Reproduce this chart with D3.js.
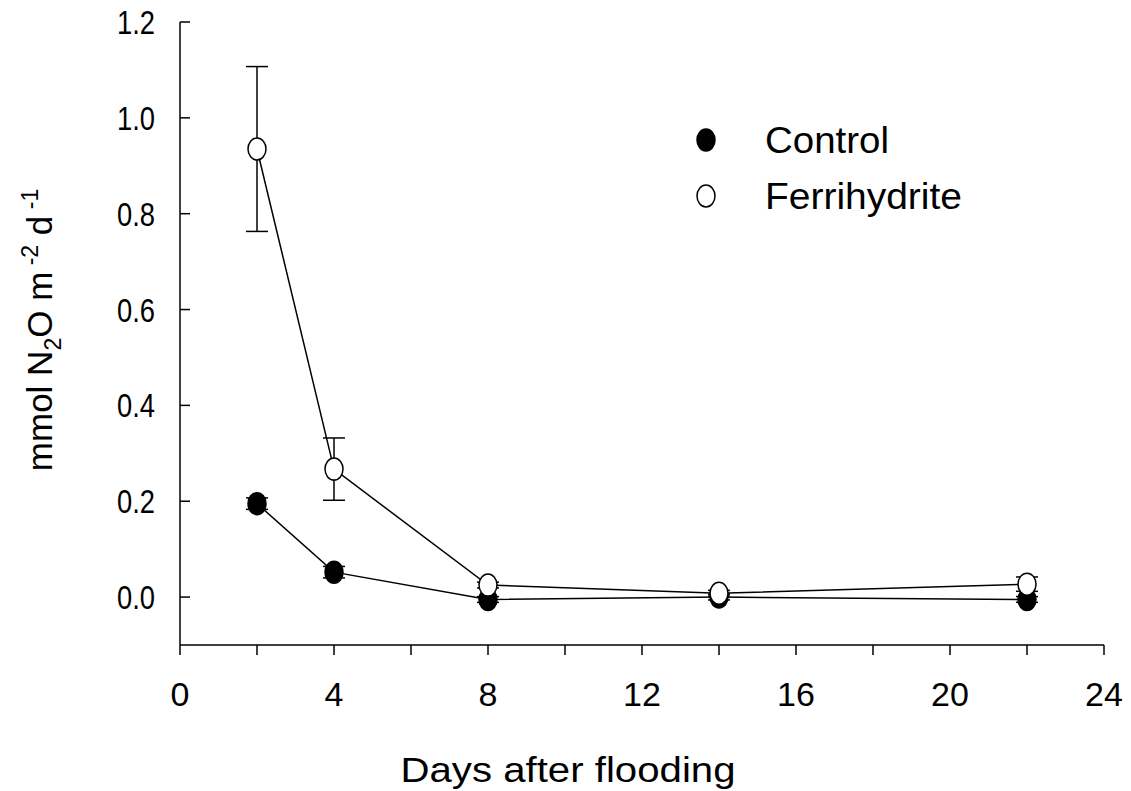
<!DOCTYPE html>
<html>
<head>
<script src="https://cdn.jsdelivr.net/npm/d3@7"></script>
<style>body{margin:0;background:#fff}</style>
</head>
<body>
<div id="root"></div>
<script>
var days = [2, 4, 8, 14, 22];
var control = [0.195, 0.052, -0.005, 0.0, -0.005];
var controlErr = [0.012, 0.012, 0.006, 0.006, 0.006];
var ferri = [0.935, 0.267, 0.025, 0.008, 0.027];
var ferriErr = [0.172, 0.065, 0.006, 0.006, 0.015];
var xTicks = [0, 4, 8, 12, 16, 20, 24];
var yTicks = [0, 0.2, 0.4, 0.6, 0.8, 1.0, 1.2];

var svg = d3.select('#root').append('svg').attr('width', 1131).attr('height', 791)
    .style('font-family', 'Liberation Sans, Arial, sans-serif');

var x = d3.scaleLinear().domain([0, 24]).range([180, 1104]);
var y = d3.scaleLinear().domain([-0.1, 1.2]).range([645, 22]);

// axes
svg.append('line').attr('x1', 180).attr('x2', 180).attr('y1', y(1.2)).attr('y2', y(-0.1)).attr('stroke', '#000').attr('stroke-width', 1.5);
svg.append('line').attr('x1', 180).attr('x2', 1104).attr('y1', 645).attr('y2', 645).attr('stroke', '#000').attr('stroke-width', 1.5);

svg.selectAll('.yt').data(yTicks).enter().append('line')
    .attr('x1', 180).attr('x2', 190).attr('y1', function (d) { return y(d); }).attr('y2', function (d) { return y(d); })
    .attr('stroke', '#000').attr('stroke-width', 1.5);
svg.selectAll('.yl').data(yTicks).enter().append('text')
    .attr('x', 155).attr('y', function (d) { return y(d) + 12; }).attr('text-anchor', 'end')
    .attr('font-size', 34).attr('textLength', 38).attr('lengthAdjust', 'spacingAndGlyphs')
    .text(function (d) { return d.toFixed(1); });

svg.selectAll('.xt').data(d3.range(0, 25, 2)).enter().append('line')
    .attr('x1', function (d) { return x(d); }).attr('x2', function (d) { return x(d); })
    .attr('y1', 645).attr('y2', 655).attr('stroke', '#000').attr('stroke-width', 1.5);
svg.selectAll('.xl').data(xTicks).enter().append('text')
    .attr('x', function (d) { return x(d); }).attr('y', 706).attr('text-anchor', 'middle')
    .attr('font-size', 34).text(function (d) { return d; });

svg.append('text').attr('x', 568).attr('y', 782).attr('text-anchor', 'middle').attr('font-size', 35)
    .attr('textLength', 335).attr('lengthAdjust', 'spacingAndGlyphs')
    .text('Days after flooding');

var yl = svg.append('text').attr('transform', 'translate(52,330) rotate(-90)').attr('text-anchor', 'middle').attr('font-size', 35);
yl.append('tspan').text('mmol N');
yl.append('tspan').attr('font-size', 23).attr('dy', 9).text('2');
yl.append('tspan').attr('dy', -9).text('O m');
yl.append('tspan').attr('font-size', 23).attr('dy', -14).text(' -2');
yl.append('tspan').attr('dy', 14).text(' d');
yl.append('tspan').attr('font-size', 23).attr('dy', -14).text(' -1');

function series(vals, errs, fill) {
    var pts = days.map(function (d, i) { return { d: d, v: vals[i], e: errs[i] }; });
    var g = svg.append('g');
    g.append('path').datum(pts).attr('fill', 'none').attr('stroke', '#000').attr('stroke-width', 1.5)
        .attr('d', d3.line().x(function (p) { return x(p.d); }).y(function (p) { return y(p.v); }));
    pts.forEach(function (p) {
        var cx = x(p.d);
        g.append('line').attr('x1', cx).attr('x2', cx).attr('y1', y(p.v + p.e)).attr('y2', y(p.v - p.e)).attr('stroke', '#000').attr('stroke-width', 1.5);
        [p.v + p.e, p.v - p.e].forEach(function (v) {
            g.append('line').attr('x1', cx - 11).attr('x2', cx + 11).attr('y1', y(v)).attr('y2', y(v)).attr('stroke', '#000').attr('stroke-width', 1.5);
        });
    });
    g.selectAll('ellipse').data(pts).enter().append('ellipse')
        .attr('cx', function (p) { return x(p.d); }).attr('cy', function (p) { return y(p.v); })
        .attr('rx', 9).attr('ry', 11).attr('fill', fill).attr('stroke', '#000').attr('stroke-width', 1.5);
}
series(control, controlErr, '#000');
series(ferri, ferriErr, '#fff');

// legend
var legend = [{ name: 'Control', fill: '#000', w: 124 }, { name: 'Ferrihydrite', fill: '#fff', w: 197 }];
legend.forEach(function (l, i) {
    var ly = 140 + i * 56;
    svg.append('ellipse').attr('cx', 706).attr('cy', ly).attr('rx', 9).attr('ry', 11)
        .attr('fill', l.fill).attr('stroke', '#000').attr('stroke-width', 1.5);
    svg.append('text').attr('x', 765).attr('y', ly + 13).attr('font-size', 36)
        .attr('textLength', l.w).attr('lengthAdjust', 'spacingAndGlyphs').text(l.name);
});
</script>
</body>
</html>
